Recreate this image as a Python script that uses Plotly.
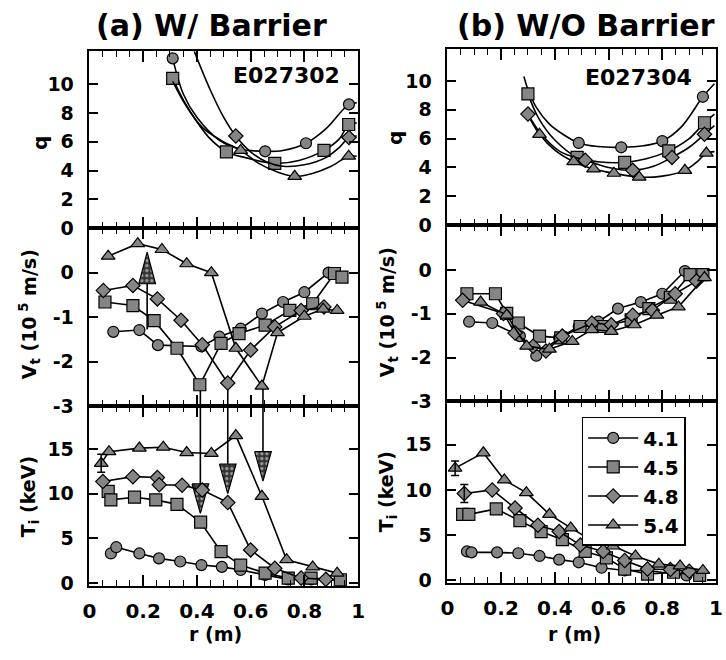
import plotly.graph_objects as go

# ------------------------------------------------------------------ data
series_names = ["4.1", "4.5", "4.8", "5.4"]

# (a) W/ Barrier, E027302 : q profiles (fitted curves + measured markers)
qa41_r = [0.31, 0.35, 0.40, 0.484, 0.56, 0.654, 0.72, 0.806, 0.88, 0.966, 0.995]
qa41_q = [11.8, 9.3, 7.7, 6.1, 5.5, 5.34, 5.4, 5.9, 6.9, 8.6, 8.7]
qa41_mr = [0.31, 0.654, 0.806, 0.966]
qa41_mq = [11.8, 5.34, 5.9, 8.6]
qa45_r = [0.31, 0.35, 0.40, 0.45, 0.51, 0.58, 0.69, 0.78, 0.873, 0.93, 0.965, 0.995]
qa45_q = [10.4, 8.9, 7.4, 6.2, 5.3, 4.9, 4.5, 4.7, 5.4, 6.2, 7.2, 7.3]
qa45_mr = [0.31, 0.51, 0.69, 0.873, 0.965]
qa45_mq = [10.4, 5.3, 4.5, 5.4, 7.2]
qa48_r = [0.39, 0.45, 0.50, 0.545, 0.60, 0.66, 0.72, 0.80, 0.88, 0.93, 0.966, 0.995]
qa48_q = [12.3, 9.6, 7.7, 6.4, 5.3, 4.6, 4.3, 4.4, 4.9, 5.6, 6.3, 6.4]
qa48_mr = [0.545, 0.966]
qa48_mq = [6.4, 6.3]
qa54_r = [0.31, 0.36, 0.42, 0.49, 0.563, 0.63, 0.70, 0.764, 0.83, 0.90, 0.965, 0.995]
qa54_q = [10.2, 8.5, 7.0, 6.1, 5.4, 4.5, 3.9, 3.6, 3.8, 4.3, 5.0, 5.0]
qa54_mr = [0.563, 0.764, 0.965]
qa54_mq = [5.4, 3.6, 5.0]

# (b) W/O Barrier, E027304 : q profiles
qb41_r = [0.285, 0.30, 0.33, 0.38, 0.43, 0.489, 0.56, 0.647, 0.73, 0.80, 0.87, 0.951, 0.994]
qb41_q = [10.3, 9.4, 8.2, 7.0, 6.3, 5.7, 5.45, 5.4, 5.5, 5.83, 6.8, 8.9, 9.8]
qb41_mr = [0.489, 0.647, 0.80, 0.951]
qb41_mq = [5.7, 5.4, 5.83, 8.9]
qb45_r = [0.30, 0.34, 0.40, 0.483, 0.56, 0.66, 0.74, 0.824, 0.90, 0.957, 0.994]
qb45_q = [9.1, 7.4, 5.9, 4.7, 4.4, 4.35, 4.6, 5.15, 6.0, 7.1, 7.7]
qb45_mr = [0.30, 0.483, 0.66, 0.824, 0.957]
qb45_mq = [9.1, 4.7, 4.35, 5.15, 7.1]
qb48_r = [0.30, 0.35, 0.42, 0.513, 0.60, 0.69, 0.77, 0.836, 0.90, 0.957, 0.994]
qb48_q = [7.7, 6.3, 5.1, 4.5, 4.0, 3.8, 4.1, 4.7, 5.4, 6.3, 6.9]
qb48_mr = [0.30, 0.513, 0.69, 0.836, 0.957]
qb48_mq = [7.7, 4.5, 3.8, 4.7, 6.3]
qb54_r = [0.31, 0.343, 0.40, 0.47, 0.544, 0.62, 0.714, 0.80, 0.884, 0.93, 0.964, 0.994]
qb54_q = [7.3, 6.3, 5.2, 4.4, 3.9, 3.6, 3.33, 3.4, 3.8, 4.4, 5.0, 5.1]
qb54_mr = [0.343, 0.47, 0.544, 0.62, 0.714, 0.884, 0.964]
qb54_mq = [6.3, 4.4, 3.9, 3.6, 3.33, 3.8, 5.0]

# toroidal rotation V_t (10^5 m/s)
va41_r = [0.089, 0.186, 0.255, 0.417, 0.484, 0.563, 0.642, 0.721, 0.80, 0.89]
va41_v = [-1.33, -1.29, -1.63, -1.66, -1.44, -1.26, -0.92, -0.66, -0.44, 0.0]
va45_r = [0.058, 0.162, 0.241, 0.326, 0.411, 0.49, 0.557, 0.654, 0.746, 0.831, 0.912, 0.94]
va45_v = [-0.66, -0.74, -1.08, -1.70, -2.52, -1.59, -1.37, -1.18, -0.85, -0.70, -0.02, -0.10]
va48_r = [0.052, 0.162, 0.253, 0.341, 0.42, 0.515, 0.60, 0.69, 0.788, 0.873]
va48_v = [-0.40, -0.29, -0.59, -1.07, -1.62, -2.48, -1.74, -1.22, -0.85, -0.77]
va54_r = [0.07, 0.18, 0.27, 0.362, 0.454, 0.545, 0.642, 0.70, 0.80, 0.87, 0.922]
va54_v = [0.37, 0.65, 0.52, 0.20, 0.0, -1.70, -2.55, -1.35, -0.98, -0.82, -0.85]

vb41_r = [0.081, 0.167, 0.27, 0.331, 0.416, 0.489, 0.562, 0.635, 0.72, 0.80, 0.884]
vb41_v = [-1.18, -1.21, -1.51, -1.96, -1.55, -1.29, -1.18, -0.88, -0.73, -0.54, -0.02]
vb45_r = [0.073, 0.179, 0.221, 0.264, 0.343, 0.422, 0.494, 0.58, 0.684, 0.75, 0.83, 0.903, 0.951]
vb45_v = [-0.54, -0.54, -0.99, -1.21, -1.51, -1.55, -1.29, -1.29, -1.14, -0.88, -0.62, -0.10, -0.10]
vb48_r = [0.057, 0.209, 0.252, 0.319, 0.367, 0.428, 0.538, 0.61, 0.69, 0.763, 0.848, 0.927]
vb48_v = [-0.69, -0.99, -1.44, -1.74, -1.85, -1.51, -1.21, -1.25, -1.03, -0.92, -0.54, -0.25]
vb54_r = [0.124, 0.221, 0.295, 0.38, 0.465, 0.538, 0.61, 0.696, 0.78, 0.86, 0.957]
vb54_v = [-0.73, -1.03, -1.74, -1.81, -1.63, -1.36, -1.40, -1.25, -1.03, -0.84, -0.17]

# ion temperature T_i (keV)
ta41_r = [0.08, 0.10, 0.186, 0.259, 0.338, 0.417, 0.493, 0.563, 0.654, 0.74, 0.825, 0.934]
ta41_t = [3.3, 4.0, 3.3, 2.75, 2.4, 2.0, 1.8, 1.45, 0.9, 0.4, 0.4, 0.3]
ta45_r = [0.07, 0.08, 0.168, 0.247, 0.326, 0.414, 0.49, 0.563, 0.654, 0.74, 0.825, 0.934]
ta45_t = [10.25, 9.3, 9.6, 9.3, 8.8, 6.8, 3.5, 2.0, 1.1, 0.55, 0.55, 0.36]
ta48_r = [0.05, 0.162, 0.253, 0.26, 0.345, 0.42, 0.515, 0.60, 0.69, 0.788, 0.88]
ta48_t = [11.35, 11.9, 11.8, 11.0, 10.95, 10.4, 9.0, 3.7, 1.65, 0.55, 0.4]
ta54_r = [0.044, 0.073, 0.186, 0.275, 0.362, 0.454, 0.545, 0.642, 0.734, 0.831, 0.922]
ta54_t = [13.4, 14.7, 15.1, 15.2, 14.6, 14.5, 16.5, 9.7, 2.6, 1.8, 1.1]

tb41_r = [0.073, 0.09, 0.185, 0.264, 0.343, 0.416, 0.489, 0.574, 0.66, 0.745, 0.89]
tb41_t = [3.2, 3.1, 3.1, 3.0, 2.7, 2.3, 2.0, 1.4, 1.1, 1.1, 0.55]
tb45_r = [0.057, 0.08, 0.182, 0.27, 0.349, 0.428, 0.513, 0.592, 0.66, 0.745, 0.842, 0.939]
tb45_t = [7.3, 7.3, 7.9, 6.6, 5.4, 4.5, 3.2, 2.5, 1.25, 0.7, 0.9, 0.55]
tb48_r = [0.063, 0.167, 0.252, 0.337, 0.416, 0.495, 0.58, 0.66, 0.745, 0.83, 0.90]
tb48_t = [9.6, 10.0, 8.0, 6.1, 5.4, 3.9, 3.2, 2.2, 1.25, 1.2, 1.0]
tb54_r = [0.029, 0.134, 0.212, 0.294, 0.38, 0.459, 0.544, 0.617, 0.70, 0.787, 0.866, 0.951]
tb54_t = [12.4, 14.1, 11.1, 9.7, 7.3, 5.8, 4.3, 3.8, 2.7, 1.8, 1.6, 1.1]

# error bars on central T_i points
erra_r, erra_t, erra_e = [0.044], [13.4], [1.0]
errb_r, errb_t, errb_e = [0.029, 0.063], [12.4, 9.6], [0.8, 1.0]

# barrier-foot arrows (panel a): V dip -> T_i tip
arrow_r = [0.413, 0.515, 0.646]
arrow_v_from = [-2.52, -2.48, -2.55]
arrow_ti_tip = [7.8, 10.0, 11.4]
# upward arrow in V panel (a)
uparrow_r = [0.215]
uparrow_v_from = [-1.28]
uparrow_v_tip = [0.46]

# ------------------------------------------------------------------ style
W, H = 726, 660
FONT = "DejaVu Sans"
SYM = ["circle", "square", "diamond", "triangle-up"]
MSIZE = [11, 12, 11, 12]
MFILL = "#858585"
LW = 1.6

def fx(p):
    return p / W

def fy(p):
    return 1 - p / H

fig = go.Figure()

def marker(i):
    return dict(symbol=SYM[i], size=MSIZE[i], color=MFILL,
                line=dict(color="black", width=1.2))

# q panels
q_sets = [
    ("x", "y", [(qa41_r, qa41_q, qa41_mr, qa41_mq), (qa45_r, qa45_q, qa45_mr, qa45_mq),
                (qa48_r, qa48_q, qa48_mr, qa48_mq), (qa54_r, qa54_q, qa54_mr, qa54_mq)]),
    ("x2", "y2", [(qb41_r, qb41_q, qb41_mr, qb41_mq), (qb45_r, qb45_q, qb45_mr, qb45_mq),
                  (qb48_r, qb48_q, qb48_mr, qb48_mq), (qb54_r, qb54_q, qb54_mr, qb54_mq)]),
]
for xa, ya, sets in q_sets:
    for i, (lr, lq, mr, mq) in enumerate(sets):
        fig.add_trace(go.Scatter(x=lr, y=lq, mode="lines", line=dict(color="black", width=LW, shape="spline", smoothing=1.0),
                                 xaxis=xa, yaxis=ya, showlegend=False, hoverinfo="skip"))
        fig.add_trace(go.Scatter(x=mr, y=mq, mode="markers", marker=marker(i),
                                 xaxis=xa, yaxis=ya, showlegend=False))

# arrows (drawn below the profile markers)
HEAD_TI = 3.3
HEAD_V = 0.71
HALF_W = 0.031
V_BOTTOM = -3.0
TI_TOP = 19.8
PATTERN = dict(shape=".", fgcolor="white", bgcolor="#333333", size=5, solidity=0.35)
for r0, v0, tip in zip(arrow_r, arrow_v_from, arrow_ti_tip):
    fig.add_trace(go.Scatter(x=[r0, r0], y=[v0, V_BOTTOM], mode="lines", line=dict(color="black", width=LW),
                             xaxis="x3", yaxis="y3", showlegend=False, hoverinfo="skip"))
    fig.add_trace(go.Scatter(x=[r0, r0], y=[TI_TOP, tip + HEAD_TI], mode="lines", line=dict(color="black", width=LW),
                             xaxis="x5", yaxis="y5", showlegend=False, hoverinfo="skip"))
    fig.add_trace(go.Scatter(x=[r0 - HALF_W, r0 + HALF_W, r0, r0 - HALF_W],
                             y=[tip + HEAD_TI, tip + HEAD_TI, tip, tip + HEAD_TI],
                             mode="lines", fill="toself", fillcolor="black", fillpattern=PATTERN,
                             line=dict(color="black", width=1.2),
                             xaxis="x5", yaxis="y5", showlegend=False, hoverinfo="skip"))
for r0, v0, tip in zip(uparrow_r, uparrow_v_from, uparrow_v_tip):
    fig.add_trace(go.Scatter(x=[r0, r0], y=[v0, tip - HEAD_V], mode="lines", line=dict(color="black", width=LW),
                             xaxis="x3", yaxis="y3", showlegend=False, hoverinfo="skip"))
    fig.add_trace(go.Scatter(x=[r0 - HALF_W, r0 + HALF_W, r0, r0 - HALF_W],
                             y=[tip - HEAD_V, tip - HEAD_V, tip, tip - HEAD_V],
                             mode="lines", fill="toself", fillcolor="black", fillpattern=PATTERN,
                             line=dict(color="black", width=1.2),
                             xaxis="x3", yaxis="y3", showlegend=False, hoverinfo="skip"))

# V and Ti panels
prof_sets = [
    ("x3", "y3", [(va41_r, va41_v), (va45_r, va45_v), (va48_r, va48_v), (va54_r, va54_v)], False),
    ("x4", "y4", [(vb41_r, vb41_v), (vb45_r, vb45_v), (vb48_r, vb48_v), (vb54_r, vb54_v)], False),
    ("x5", "y5", [(ta41_r, ta41_t), (ta45_r, ta45_t), (ta48_r, ta48_t), (ta54_r, ta54_t)], False),
    ("x6", "y6", [(tb41_r, tb41_t), (tb45_r, tb45_t), (tb48_r, tb48_t), (tb54_r, tb54_t)], True),
]
for xa, ya, sets, leg in prof_sets:
    for i, (rr, vv) in enumerate(sets):
        fig.add_trace(go.Scatter(x=rr, y=vv, mode="lines+markers", name=series_names[i],
                                 line=dict(color="black", width=LW), marker=marker(i),
                                 xaxis=xa, yaxis=ya, showlegend=leg))

for xa, ya, er, et, ee in [("x5", "y5", erra_r, erra_t, erra_e), ("x6", "y6", errb_r, errb_t, errb_e)]:
    fig.add_trace(go.Scatter(x=er, y=et, mode="markers", marker=dict(size=1, opacity=0),
                             error_y=dict(type="data", array=ee, visible=True, color="black", thickness=1.5, width=4),
                             xaxis=xa, yaxis=ya, showlegend=False, hoverinfo="skip"))

# ------------------------------------------------------------------ axes
xtickfont = dict(family=FONT, size=20, color="black", weight="bold")
ytickfont = dict(family=FONT, size=19, color="black", weight="bold")

def xaxis(left, right, anchor, labels):
    return dict(domain=[fx(left), fx(right)], range=[0, 1], anchor=anchor,
                showline=True, linecolor="black", linewidth=1.5, mirror="allticks",
                ticks="inside", ticklen=11, tickwidth=1.5, tickcolor="black",
                tick0=0, dtick=0.2, ticklabelstandoff=6,
                minor=dict(dtick=0.05, ticks="inside", ticklen=6, tickwidth=1.2, tickcolor="black", showgrid=False),
                showgrid=False, zeroline=False, showticklabels=labels, tickfont=xtickfont)

def yaxis(top, bottom, anchor, rng, vals):
    return dict(domain=[fy(bottom), fy(top)], range=rng, anchor=anchor,
                showline=True, linecolor="black", linewidth=1.5, mirror="allticks",
                ticks="inside", ticklen=9, tickwidth=1.5, tickcolor="black",
                tickvals=vals, ticktext=[str(v) for v in vals], ticklabelstandoff=10,
                showgrid=False, zeroline=False, tickfont=ytickfont)

LX0, LX1 = 84, 358
RX0, RX1 = 449, 723
q_ticks = [0, 2, 4, 6, 8, 10]
v_ticks = [0, -1, -2, -3]
t_ticks = [0, 5, 10, 15]

fig.update_layout(
    width=W, height=H, margin=dict(l=0, r=0, t=0, b=0),
    paper_bgcolor="white", plot_bgcolor="white",
    font=dict(family=FONT, color="black"),
    xaxis=xaxis(LX0, LX1, "y", False),
    xaxis2=xaxis(RX0, RX1, "y2", False),
    xaxis3=xaxis(LX0, LX1, "y3", False),
    xaxis4=xaxis(RX0, RX1, "y4", False),
    xaxis5=xaxis(LX0, LX1, "y5", True),
    xaxis6=xaxis(RX0, RX1, "y6", True),
    yaxis=yaxis(52, 232, "x", [0, 12.3], q_ticks),
    yaxis2=yaxis(50, 229, "x2", [0, 12.2], q_ticks),
    yaxis3=yaxis(232, 413, "x3", [-3, 1.0], v_ticks),
    yaxis4=yaxis(229, 408, "x4", [-3, 1.03], v_ticks),
    yaxis5=yaxis(413, 596, "x5", [-0.35, 19.8], t_ticks),
    yaxis6=yaxis(408, 593, "x6", [-0.3, 19.8], t_ticks),
    legend=dict(x=fx(586), y=fy(424), xanchor="left", yanchor="top",
                bgcolor="white", bordercolor="black", borderwidth=1.5,
                font=dict(family=FONT, size=20, weight="bold"), itemwidth=50,
                tracegroupgap=0),
    showlegend=True,
)

def ann(text, x, y, size, angle=0, xanchor="center"):
    fig.add_annotation(text=text, x=fx(x), y=fy(y), xref="paper", yref="paper",
                       showarrow=False, textangle=angle, xanchor=xanchor, yanchor="middle",
                       font=dict(family=FONT, size=size, color="black", weight="bold"))

ann("(a) W/ Barrier", 209, 26, 30)
ann("(b) W/O Barrier", 590, 26, 30)
ann("E027302", 342, 77, 22, xanchor="right")
ann("E027304", 701, 79, 22, xanchor="right")
ann("q", 33, 145, 20, angle=-90)
ann("q", 395, 140, 20, angle=-90)
ann("V<sub>t</sub> (10<sup> 5</sup> m/s)", 23, 320, 19, angle=-90)
ann("V<sub>t</sub> (10<sup> 5</sup> m/s)", 388, 318, 19, angle=-90)
ann("T<sub>i</sub> (keV)", 23, 505, 19, angle=-90)
ann("T<sub>i</sub> (keV)", 388, 500, 19, angle=-90)
ann("r (m)", 213, 645, 19)
ann("r (m)", 579, 645, 19)

fig.write_html("out.html")
